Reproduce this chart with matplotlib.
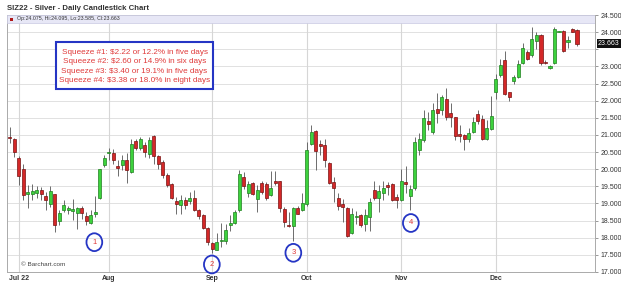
import matplotlib.pyplot as plt
from matplotlib.patches import Rectangle, Ellipse
import matplotlib.transforms as mtransforms
import numpy as np

plt.rcParams["font.family"] = ["Liberation Sans", "DejaVu Sans"]

# daily OHLC, SIZ22, Jun 29 2022 .. Dec 28 2022 (trading days)
opens = [20.93, 20.89, 20.33, 20.02, 19.29, 19.29, 19.32, 19.38, 19.21, 18.97,
         19.27, 18.48, 18.80, 18.80, 18.78, 18.73, 18.87, 18.62, 18.44, 18.68,
         19.17, 20.11, 20.46, 20.46, 20.09, 20.11, 20.26, 19.92, 20.81, 20.63,
         20.70, 20.43, 20.97, 20.38, 20.21, 19.82, 19.56, 19.06, 18.96, 19.11,
         19.06, 19.17, 18.80, 18.65, 18.28, 17.84, 17.65, 17.91, 17.90, 18.38,
         18.43, 18.80, 19.78, 19.30, 19.60, 19.14, 19.60, 19.58, 19.24, 19.65,
         19.65, 18.83, 18.37, 18.33, 18.88, 18.80, 18.97, 20.75, 21.11, 20.75,
         20.72, 20.18, 19.63, 19.16, 18.99, 18.87, 18.13, 18.61, 18.67, 18.41,
         18.60, 19.38, 19.17, 19.30, 19.55, 19.56, 19.19, 19.11, 19.63, 19.21,
         19.46, 20.55, 20.84, 21.40, 21.09, 21.77, 21.74, 22.06, 21.63, 21.51,
         21.02, 20.99, 20.87, 21.09, 21.61, 21.46, 20.87, 21.16, 22.26, 22.75,
         23.18, 22.24, 22.58, 22.70, 23.11, 23.43, 23.33, 23.74, 23.93, 23.13,
         22.94, 23.09, 24.01, 24.03, 23.72, 24.09, 24.075]
highs = [21.23, 20.92, 20.38, 20.16, 19.53, 19.56, 19.50, 19.48, 19.34, 19.50,
         19.27, 18.80, 19.09, 18.94, 19.14, 18.90, 18.94, 18.75, 18.80, 19.21,
         20.02, 20.41, 20.62, 20.60, 20.26, 20.41, 20.46, 20.89, 20.89, 20.94,
         20.79, 20.94, 21.01, 20.41, 20.26, 19.90, 19.61, 19.19, 19.24, 19.19,
         19.33, 19.38, 18.85, 18.68, 18.30, 17.87, 18.13, 18.43, 18.41, 18.65,
         18.80, 19.98, 19.92, 19.67, 19.63, 19.53, 19.67, 19.63, 19.95, 19.95,
         19.67, 18.90, 18.75, 18.90, 18.94, 19.31, 20.79, 21.29, 21.13, 20.85,
         20.89, 20.20, 19.77, 19.31, 19.14, 18.90, 18.87, 18.77, 18.70, 18.85,
         19.17, 19.67, 19.53, 19.66, 19.63, 19.60, 19.29, 20.02, 20.08, 19.53,
         20.94, 21.06, 21.72, 21.67, 21.94, 22.21, 22.16, 22.36, 21.92, 21.53,
         21.28, 21.02, 21.19, 21.53, 21.72, 21.58, 21.43, 22.13, 22.77, 23.23,
         23.46, 22.25, 22.75, 23.18, 23.69, 23.48, 24.16, 24.01, 23.96, 23.20,
         23.04, 24.16, 24.04, 24.06, 23.90, 24.11, 24.095]
lows = [20.76, 20.36, 19.53, 19.11, 18.88, 19.11, 19.17, 19.09, 18.80, 18.90,
        18.16, 18.38, 18.75, 18.70, 18.51, 18.26, 18.55, 18.36, 18.40, 18.60,
        19.14, 20.07, 20.26, 20.16, 19.80, 19.97, 19.61, 19.90, 20.55, 20.57,
        20.36, 20.33, 20.16, 20.00, 19.74, 19.48, 19.14, 18.70, 18.70, 18.85,
        18.99, 18.77, 18.55, 18.26, 17.80, 17.55, 17.63, 17.73, 17.82, 18.21,
        18.41, 18.75, 19.43, 19.19, 19.24, 18.75, 19.29, 19.11, 19.21, 19.53,
        18.75, 18.31, 18.30, 17.90, 18.68, 18.77, 18.94, 20.70, 19.99, 20.41,
        20.05, 19.58, 19.04, 18.80, 18.46, 18.02, 18.10, 18.41, 18.31, 18.19,
        18.19, 19.09, 18.75, 19.11, 19.24, 19.07, 18.88, 19.07, 19.30, 18.80,
        19.40, 20.41, 20.79, 21.14, 21.04, 21.35, 21.58, 21.45, 21.23, 20.84,
        20.79, 20.57, 20.79, 21.06, 21.33, 20.84, 20.84, 21.14, 22.06, 22.70,
        22.16, 21.99, 22.50, 22.65, 23.07, 23.18, 23.28, 23.50, 23.04, 23.07,
        22.91, 23.06, 24.00, 23.43, 23.55, 24.01, 23.585]
closes = [20.90, 20.49, 19.80, 19.26, 19.34, 19.35, 19.40, 19.29, 19.11, 19.35,
          18.38, 18.73, 18.96, 18.87, 18.84, 18.87, 18.73, 18.48, 18.67, 18.75,
          20.02, 20.33, 20.49, 20.26, 20.03, 20.26, 19.97, 20.75, 20.62, 20.87,
          20.49, 20.84, 20.38, 20.16, 19.82, 19.55, 19.16, 18.97, 19.11, 18.96,
          19.17, 18.80, 18.63, 18.29, 17.87, 17.68, 17.87, 17.93, 18.24, 18.43,
          18.75, 19.85, 19.50, 19.56, 19.29, 19.38, 19.34, 19.17, 19.46, 19.61,
          18.88, 18.46, 18.33, 18.88, 18.70, 19.01, 20.57, 21.09, 20.53, 20.67,
          20.26, 19.60, 19.46, 18.94, 18.90, 18.04, 18.68, 18.63, 18.36, 18.67,
          19.04, 19.17, 19.35, 19.46, 19.48, 19.11, 19.11, 19.66, 19.58, 19.43,
          20.79, 20.89, 21.50, 21.33, 21.72, 21.64, 22.11, 21.51, 21.51, 20.96,
          20.96, 20.89, 21.06, 21.38, 21.41, 20.89, 21.21, 21.54, 22.64, 23.04,
          22.19, 22.11, 22.70, 23.07, 23.53, 23.23, 23.79, 23.93, 23.11, 23.11,
          23.01, 24.08, 24.03, 23.46, 23.77, 24.01, 23.663]

month_pos = [3, 23, 46, 67, 88, 109]
month_labels = ["Jul 22", "Aug", "Sep", "Oct", "Nov", "Dec"]

squeeze_notes = [
    "Squeeze #1: $2.22 or 12.2% in five days",
    "Squeeze #2: $2.60 or 14.9% in six days",
    "Squeeze #3: $3.40 or 19.1% in five days",
    "Squeeze #4: $3.38 or 18.0% in eight days",
]
squeeze_labels = ["1", "2", "3", "4"]
squeeze_x = [19.8, 45.9, 64.0, 90.1]
squeeze_y = [17.87, 17.22, 17.56, 18.43]

last_price = 23.663

o = np.array(opens)
h = np.array(highs)
l = np.array(lows)
c = np.array(closes)
x = np.arange(1, len(o) + 1)
up = c > o

fig = plt.figure(figsize=(6.21, 2.88), dpi=100)
W, H = 621, 288
ax = fig.add_axes([7 / W, 16 / H, 588 / W, 257 / H])

# candles
ax.vlines(x, l, h, color="#555555", lw=0.6, zorder=2)
bottom = np.minimum(o, c)
height = np.maximum(np.abs(c - o), 0.03)
ax.bar(x[up], height[up], bottom=bottom[up], width=0.68,
       color="#3dd23d", edgecolor="#1f7f1f", lw=0.5, zorder=3)
ax.bar(x[~up], height[~up], bottom=bottom[~up], width=0.68,
       color="#d42828", edgecolor="#781212", lw=0.5, zorder=3)

ax.set_xlim(0.4, 131.0)
ax.set_ylim(17.0, 24.5)

# grid
yt = np.arange(17.0, 24.51, 0.5)
ax.set_yticks(yt)
ax.set_yticklabels(["" if abs(v - 23.5) < 1e-6 else f"{v:.3f}" for v in yt])
ax.yaxis.tick_right()
ax.tick_params(axis="y", length=2.5, width=0.6, color="#888888",
               labelsize=5, labelcolor="#333333", pad=1.5)
ax.set_xticks(month_pos)
ax.set_xticklabels(month_labels, fontsize=5, fontweight="bold", color="#333333")
ax.tick_params(axis="x", length=0, pad=2.5)
for v in yt:
    ax.axhline(v, color="#dcdcdc", lw=0.6, zorder=0)
for p in month_pos:
    ax.axvline(p, color="#d6d6d6", lw=0.8, zorder=0)
for s in ax.spines.values():
    s.set_color("#aaaaaa")
    s.set_linewidth(0.7)

# info bar
ax.add_patch(Rectangle((0, 1 - 7.5 / 257), 1, 7.5 / 257, transform=ax.transAxes,
                       facecolor="#e7e7f6", edgecolor="#c9c9e2", lw=0.5, zorder=4))
ax.add_patch(Rectangle((3 / 588, 1 - 5.8 / 257), 3.2 / 588, 3.2 / 257,
                       transform=ax.transAxes, facecolor="#b01818",
                       edgecolor="none", zorder=5))
ax.text(10 / 588, 1 - 3.8 / 257,
        f"Op:{o[-1]:.3f}, Hi:{h[-1]:.3f}, Lo:{l[-1]:.3f}, Cl:{c[-1]:.3f}",
        transform=ax.transAxes, fontsize=3.8, color="#333333",
        va="center", ha="left", zorder=5)

# last price marker
tr = mtransforms.blended_transform_factory(ax.transAxes, ax.transData)
ax.text(1 + 3 / 588, last_price, f"{last_price:.3f}", transform=tr,
        fontsize=5, color="white", va="center", ha="left",
        bbox=dict(boxstyle="square,pad=0.15", facecolor="#111111",
                  edgecolor="none"), clip_on=False, zorder=6)

fig.text(7 / W, 1 - 8 / H, "SIZ22 - Silver - Daily Candlestick Chart",
         fontsize=5.6, fontweight="bold", color="#333333", va="center", ha="left")
ax.text(14 / 588, 7 / 257, "\u00a9 Barchart.com", transform=ax.transAxes,
        fontsize=4.6, color="#444444", va="center", ha="left")

# annotation box
fig.patches.append(Rectangle((56 / W, 1 - 89 / H), 157 / W, 47 / H,
                             transform=fig.transFigure, facecolor="white",
                             edgecolor="#2535c4", lw=1.5, zorder=10))
for i, note in enumerate(squeeze_notes):
    fig.text(134.5 / W, 1 - (52.3 + 9.5 * i) / H, note, fontsize=5.9,
             color="#e03a3a", ha="center", va="center", zorder=11)

# squeeze markers
for sx, sy, lab in zip(squeeze_x, squeeze_y, squeeze_labels):
    ax.add_patch(Ellipse((sx, sy), 3.5, 0.52, facecolor="none",
                         edgecolor="#2535c4", lw=1.3, clip_on=False, zorder=7))
    ax.text(sx, sy, lab, fontsize=5.5, color="#e03a3a",
            ha="center", va="center", zorder=8, clip_on=False)

fig.savefig("out.png", dpi=100)
plt.close(fig)
